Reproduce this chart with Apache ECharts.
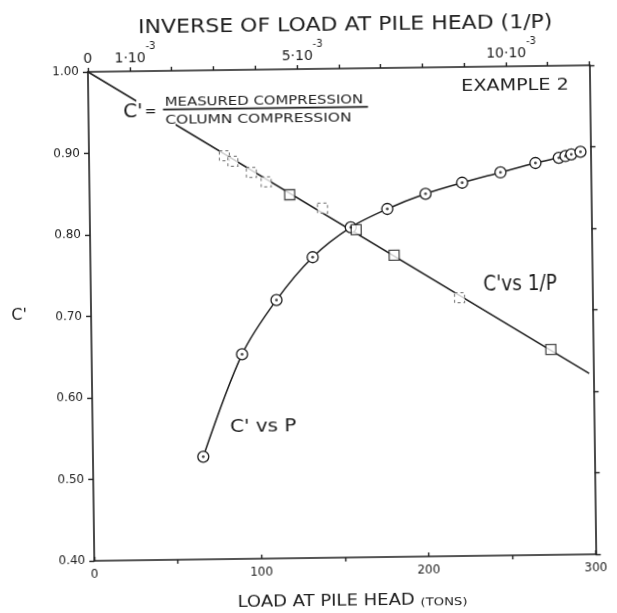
<!DOCTYPE html>
<html>
<head>
<meta charset="utf-8">
<title>C' vs load at pile head</title>
<script src="https://cdn.jsdelivr.net/npm/echarts@6/dist/echarts.min.js"></script>
<style>
  html, body { margin: 0; padding: 0; background: #fff; overflow: hidden; }
  /* the plate is mounted slightly askew */
  #chart { width: 617px; height: 613px; transform: rotate(-0.75deg); transform-origin: 50% 50%; }
</style>
</head>
<body>
<div id="chart"></div>
<script>
// C' against load at pile head (circles)
const loadTons = [66, 90, 111, 133, 156, 178, 201, 223, 246, 267, 281, 285, 288.5, 294];
const cVsLoad  = [0.526, 0.651, 0.717, 0.769, 0.805, 0.827, 0.845, 0.858, 0.870, 0.881, 0.887, 0.889, 0.891, 0.894];

// C' against inverse load 1/P (squares)
const invLoad = [0.00479, 0.00637, 0.00727, 0.01099];
const cVsInv  = [0.846, 0.802, 0.770, 0.652];
// squares that are only faintly printed
const invLoadFaint = [0.00324, 0.00344, 0.00388, 0.00423, 0.00557, 0.00882];
const cVsInvFaint  = [0.895, 0.888, 0.874, 0.862, 0.829, 0.717];

// straight line through the 1/P points
const fitInv = [0, 0.0119];
const fitC   = [1.0, 0.622];

// tick labels
const loadTickLabels = ['0', '100', '200', '300'];
const loadMinorTicks = [50, 150, 250];
const invTickValues  = [0, 0.001, 0.005, 0.010];
const invTickBase    = ['0', '1·10', '5·10', '10·10'];
const invTickExp     = ['', '-3', '-3', '-3'];
const yTickLabels    = ['0.40', '0.50', '0.60', '0.70', '0.80', '0.90', '1.00'];

const INK = '#1e1e1e';
const FONT = 'DejaVu Sans';
const axisLine = { show: true, onZero: false, lineStyle: { color: INK, width: 1.6 } };
const tickStyle = { color: INK, width: 1.4 };

const pairs = (xs, ys) => xs.map((x, i) => [x, ys[i]]);

const chart = echarts.init(document.getElementById('chart'), null, { renderer: 'canvas' });

function txt(text, x, y, size, scaleX, extra) {
  return Object.assign({
    type: 'text', x: x, y: y, scaleX: scaleX || 1, z: 20,
    style: Object.assign({
      text: text, fontSize: size, fontFamily: FONT, fill: INK,
      align: 'center', verticalAlign: 'middle',
      textAlign: 'center', textVerticalAlign: 'middle'
    }, extra || {})
  });
}

chart.setOption({
  backgroundColor: '#fff',
  animation: false,
  grid: { left: 91, right: 24.5, top: 69, bottom: 55 },
  xAxis: [
    {
      type: 'value', position: 'bottom', min: 0, max: 300, interval: 100,
      axisLine: axisLine,
      axisTick: { show: true, inside: true, length: 4, lineStyle: tickStyle },
      axisLabel: {
        margin: 8, fontSize: 12, fontFamily: FONT, color: INK,
        formatter: v => loadTickLabels[Math.round(v / 100)]
      },
      splitLine: { show: false }
    },
    {
      type: 'value', position: 'top', min: 0, max: 0.012, interval: 0.001,
      axisLine: axisLine,
      axisTick: { show: true, inside: false, length: 4, lineStyle: tickStyle },
      axisLabel: {
        customValues: invTickValues,
        margin: 6,
        formatter: v => {
          let i = invTickValues.findIndex(t => Math.abs(t - v) < 1e-9);
          if (i < 0) return '';
          if (!invTickExp[i]) return '{z|' + invTickBase[i] + '}';
          return '{b|' + invTickBase[i] + '}{s|' + invTickExp[i] + '}';
        },
        rich: {
          z: { fontSize: 14, fontFamily: FONT, color: INK, lineHeight: 24, verticalAlign: 'bottom' },
          b: { fontSize: 14, fontFamily: FONT, color: INK, lineHeight: 24, verticalAlign: 'bottom', padding: [0, 0, 0, 11] },
          s: { fontSize: 10, fontFamily: FONT, color: INK, lineHeight: 12, verticalAlign: 'top' }
        }
      },
      splitLine: { show: false }
    },
    {
      type: 'value', position: 'bottom', min: 0, max: 300,
      axisLine: { show: false },
      axisTick: { show: true, inside: false, length: 4, customValues: loadMinorTicks, lineStyle: tickStyle },
      axisLabel: { show: false },
      splitLine: { show: false }
    }
  ],
  yAxis: [
    {
      type: 'value', position: 'left', min: 0.4, max: 1.0, interval: 0.1,
      axisLine: axisLine,
      axisTick: { show: true, inside: false, length: 5, lineStyle: tickStyle },
      axisLabel: {
        margin: 9, fontSize: 12, fontFamily: FONT, color: INK,
        formatter: v => yTickLabels[Math.round((v - 0.4) / 0.1)]
      },
      splitLine: { show: false }
    },
    {
      type: 'value', position: 'right', min: 0.4, max: 1.0, interval: 0.1,
      axisLine: axisLine,
      axisTick: { show: true, inside: false, length: 5, lineStyle: tickStyle },
      axisLabel: { show: false },
      splitLine: { show: false }
    }
  ],
  series: [
    {
      name: "C' vs 1/P", type: 'line', xAxisIndex: 1, yAxisIndex: 0,
      data: pairs(fitInv, fitC), symbol: 'none', z: 2,
      lineStyle: { color: INK, width: 1.5 }
    },
    {
      name: "C' vs P", type: 'line', xAxisIndex: 0, yAxisIndex: 0,
      data: pairs(loadTons, cVsLoad),
      smooth: 0.3,
      symbol: 'circle', symbolSize: 11, showAllSymbol: true, z: 3,
      lineStyle: { color: INK, width: 1.5 },
      itemStyle: { color: '#fff', borderColor: INK, borderWidth: 1.3 }
    },
    {
      type: 'scatter', xAxisIndex: 0, yAxisIndex: 0,
      data: pairs(loadTons, cVsLoad), symbol: 'circle', symbolSize: 2.8, z: 5,
      itemStyle: { color: INK }
    },
    {
      type: 'scatter', xAxisIndex: 1, yAxisIndex: 0,
      data: pairs(invLoad, cVsInv), symbol: 'rect', symbolSize: 10, z: 4,
      itemStyle: { color: '#fff', borderColor: INK, borderWidth: 1.3 }
    },
    {
      type: 'scatter', xAxisIndex: 1, yAxisIndex: 0,
      data: pairs(invLoadFaint, cVsInvFaint), symbol: 'rect', symbolSize: 10, z: 4,
      itemStyle: { color: '#fff', borderColor: '#666', borderWidth: 1.2, borderType: [3, 3] }
    }
  ],
  graphic: [
    // axis titles
    txt('INVERSE OF LOAD AT PILE HEAD (1/P)', 349, 25.5, 20, 1.1),
    txt("C'", 19, 312, 16, 1),
    {
      type: 'text', x: 348.6, y: 601, scaleX: 1.2, z: 20,
      style: {
        text: '{a|LOAD AT PILE HEAD }{b|(TONS)}',
        align: 'center', verticalAlign: 'middle', textAlign: 'center', textVerticalAlign: 'middle',
        rich: {
          a: { fontSize: 15, fontFamily: FONT, fill: INK, color: INK, lineHeight: 18, verticalAlign: 'bottom' },
          b: { fontSize: 11, fontFamily: FONT, fill: INK, color: INK, lineHeight: 16, verticalAlign: 'bottom' }
        }
      }
    },
    // blank behind the definition so the 1/P line breaks around it
    { type: 'rect', shape: { x: 139, y: 92, width: 39, height: 32 }, style: { fill: '#fff' }, z: 10 },
    // definition of C'
    txt("C'", 135.5, 110.2, 20, 1),
    txt('=', 153, 110, 14, 1),
    txt('MEASURED COMPRESSION', 266.7, 100.4, 12, 1.24),
    { type: 'line', shape: { x1: 165.6, y1: 107.7, x2: 370.6, y2: 107.7 }, style: { stroke: INK, lineWidth: 1.8 }, z: 20 },
    txt('COLUMN COMPRESSION', 260.9, 119.3, 12, 1.29),
    // annotations
    txt('EXAMPLE 2', 517.9, 88.7, 16, 1.2),
    txt("C'vs 1/P", 520.3, 287.8, 21, 0.88),
    txt("C' vs P", 261.7, 425.9, 18, 1.11)
  ]
});
</script>
</body>
</html>
